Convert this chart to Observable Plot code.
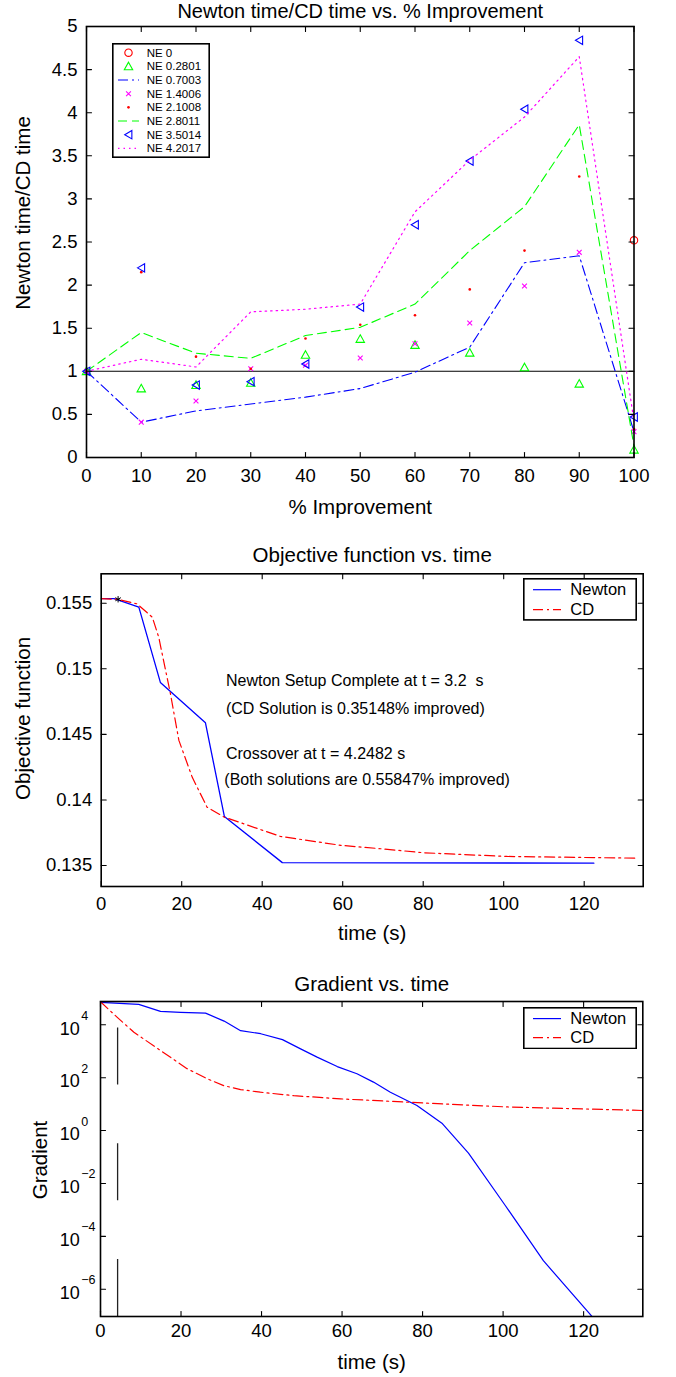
<!DOCTYPE html>
<html><head><meta charset="utf-8">
<script src="https://cdn.jsdelivr.net/npm/d3@7"></script>
<script src="https://cdn.jsdelivr.net/npm/@observablehq/plot@0.6"></script>
<style>
body{margin:0;background:#fff;}
#wrap{position:relative;width:676px;height:1377px;overflow:hidden;background:#fff;}
#wrap svg{display:block;}
svg text{white-space:pre;}
</style></head><body><div id="wrap"></div>
<script>
const FONT = '"Liberation Sans", Arial, Helvetica, sans-serif';

// ---------- Chart 1: Newton time/CD time vs % improvement ----------
const improvement = [0,10,20,30,40,50,60,70,80,90,100];
const ne_0      = [null,null,null,null,null,null,null,null,null,null,2.52];
const ne_0_2801 = [1,0.80,0.84,0.865,1.19,1.375,1.305,1.215,1.045,0.855,0.09];
const ne_0_7003 = [1,0.41,0.54,0.62,0.70,0.80,0.99,1.28,2.26,2.34,0.30];
const ne_1_4006 = [1,0.41,0.655,1.03,1.07,1.155,1.32,1.56,1.99,2.38,0.30];
const ne_2_1008 = [1,2.15,1.17,1.03,1.38,1.54,1.65,1.95,2.40,3.26,0.33];
const ne_2_8011 = [1,1.45,1.21,1.15,1.415,1.51,1.78,2.40,2.91,3.86,0.13];
const ne_3_5014 = [1,2.20,0.84,0.88,1.085,1.745,2.70,3.44,4.04,4.84,0.47];
const ne_4_2017 = [1,1.14,1.05,1.69,1.72,1.78,2.85,3.45,3.95,4.65,0.42];
const legendLabels1 = ["NE 0","NE 0.2801","NE 0.7003","NE 1.4006","NE 2.1008","NE 2.8011","NE 3.5014","NE 4.2017"];
const xTicks1 = [0,10,20,30,40,50,60,70,80,90,100];
const yTicks1 = [0,0.5,1,1.5,2,2.5,3,3.5,4,4.5,5];
const yTickLabels1 = ["0","0.5","1","1.5","2","2.5","3","3.5","4","4.5","5"];
const referenceRatio = 1;

// ---------- Chart 2: Objective function vs time ----------
const newtonTime = [0,3.2,9.35,14.7,25.9,30.6,45.0,122.4];
const newtonObjective = [0.15534,0.15534,0.1547,0.14896,0.14588,0.13874,0.13522,0.13518];
const cdTime = [0,4,8.9,12.7,14.3,17.2,19.3,22.6,26.3,30.5,44.5,59.5,69.4,80.2,100.9,133.2];
const cdObjective = [0.15534,0.1553,0.15495,0.15393,0.1524,0.1481,0.14454,0.14174,0.13945,0.1387,0.13722,0.13654,0.13628,0.13597,0.13569,0.13556];
const starTime = [4.2];
const starObjective = [0.1553];
const annotationText = ["Newton Setup Complete at t = 3.2  s","(CD Solution is 0.35148% improved)","Crossover at t = 4.2482 s","(Both solutions are 0.55847% improved)"];
const annotationX = [31,31,31,30.6];
const annotationY = [0.14911,0.14697,0.14354,0.14156];
const xTicks2 = [0,20,40,60,80,100,120];
const yTicks2 = [0.135,0.14,0.145,0.15,0.155];
const yTickLabels2 = ["0.135","0.14","0.145","0.15","0.155"];

// ---------- Chart 3: Gradient vs time ----------
const newtonGradTime = [0,9.5,14.9,19.9,26.1,30.7,34.8,39.8,45.2,49.7,53.8,58.8,63.7,67.8,72,78.6,84.8,91.4,100.5,110.0,122.5];
const newtonGradient = [7.1e4,5.9e4,3.2e4,2.95e4,2.75e4,1.38e4,6.0e3,4.6e3,2.75e3,1.23e3,600,263,141,68,28,8.9,1.9,0.14,1.5e-3,1.2e-5,7.9e-8];
const cdGradTime = [0,4.1,8.3,14.9,21.5,26.5,30.6,34.8,39.7,48,59.6,80.4,101.1,134.6];
const cdGradient = [7.4e4,1.95e4,5.2e3,1.07e3,219,91,50,35.5,28.2,20.9,15.8,11,7.8,5.75];
const crossoverTime = [4.2482];
const xTicks3 = [0,20,40,60,80,100,120];
const yTicks3 = [1e-6,1e-4,1e-2,1,1e2,1e4];
const legendLabels23 = ["Newton","CD"];

// ---------- helpers ----------
const RED="#ff0000", GREEN="#00ff00", BLUE="#0000ff", MAGENTA="#ff00ff";
const pairs = (xs, ys) => xs.map((x,i)=>({x, y: ys[i]})).filter(d => d.y != null);

const triUp = {draw(ctx,size){const r=Math.sqrt(size/Math.PI);ctx.moveTo(0,-r);ctx.lineTo(r,r*0.8);ctx.lineTo(-r,r*0.8);ctx.closePath();}};
const triLeft = {draw(ctx,size){const r=Math.sqrt(size/Math.PI);ctx.moveTo(-r*0.9,0);ctx.lineTo(r*0.8,-r);ctx.lineTo(r*0.8,r);ctx.closePath();}};
const crossX = {draw(ctx,size){const r=Math.sqrt(size/Math.PI);ctx.moveTo(-r,-r);ctx.lineTo(r,r);ctx.moveTo(r,-r);ctx.lineTo(-r,r);}};
const tickShape = {draw(ctx, l){ctx.moveTo(0,0);ctx.lineTo(0,-l);}};

function boxAxes(xTicks, yTicks) {
  const T = 5;
  const o = {length:T, anchor:"start", shape:tickShape, stroke:"black", strokeWidth:1.1};
  return [
    Plot.vector(xTicks, {x:d=>d, frameAnchor:"bottom", rotate:0, ...o}),
    Plot.vector(xTicks, {x:d=>d, frameAnchor:"top", rotate:180, ...o}),
    Plot.vector(yTicks, {y:d=>d, frameAnchor:"left", rotate:90, ...o}),
    Plot.vector(yTicks, {y:d=>d, frameAnchor:"right", rotate:-90, ...o}),
    Plot.frame({stroke:"black", strokeWidth:1.6})
  ];
}
const title = (s, dy, fs) => Plot.text([s], {frameAnchor:"top", textAnchor:"middle", lineAnchor:"middle", dy, fontSize:fs});
const xLabel = (s, dy) => Plot.text([s], {frameAnchor:"bottom", textAnchor:"middle", lineAnchor:"middle", dy, fontSize:20.5});
const yLabel = (s, dx, dy) => Plot.text([s], {frameAnchor:"left", textAnchor:"middle", lineAnchor:"middle", rotate:-90, dx, dy, fontSize:20.5});

const wrap = document.getElementById("wrap");

// ---------- Chart 1 ----------
const c1 = Plot.plot({
  width:676, height:530, marginTop:26, marginBottom:73, marginLeft:86, marginRight:42.5,
  style:{fontFamily:FONT, background:"white", color:"black"},
  x:{domain:[0,100], axis:null}, y:{domain:[0,5], axis:null},
  marks:[
    Plot.ruleY([referenceRatio], {stroke:"black", strokeWidth:1.1}),
    Plot.dot(pairs(improvement, ne_0), {x:"x", y:"y", r:3.7, stroke:RED, strokeWidth:1.1}),
    Plot.dot(pairs(improvement, ne_0_2801), {x:"x", y:"y", r:4.2, symbol:triUp, stroke:GREEN, strokeWidth:1.1}),
    Plot.line(pairs(improvement, ne_0_7003), {x:"x", y:"y", stroke:BLUE, strokeWidth:1.1, strokeDasharray:"10,4,2,4"}),
    Plot.dot(pairs(improvement, ne_1_4006), {x:"x", y:"y", r:2.4, symbol:crossX, stroke:MAGENTA, strokeWidth:1.1}),
    Plot.dot(pairs(improvement, ne_2_1008), {x:"x", y:"y", r:1.3, fill:RED}),
    Plot.line(pairs(improvement, ne_2_8011), {x:"x", y:"y", stroke:GREEN, strokeWidth:1.1, strokeDasharray:"9,5"}),
    Plot.dot(pairs(improvement, ne_3_5014), {x:"x", y:"y", r:4.2, symbol:triLeft, stroke:BLUE, strokeWidth:1.1}),
    Plot.line(pairs(improvement, ne_4_2017), {x:"x", y:"y", stroke:MAGENTA, strokeWidth:1.2, strokeDasharray:"1.5,4"}),
    ...boxAxes(xTicks1, yTicks1),
    Plot.axisX({anchor:"bottom", ticks:xTicks1, tickSize:0, tickPadding:11, label:null, fontSize:18.5, tickFormat:d=>String(d)}),
    Plot.axisY({anchor:"left", ticks:yTicks1, tickSize:0, tickPadding:9, label:null, fontSize:18.5, tickFormat:d=>yTickLabels1[yTicks1.indexOf(d)]}),
    title("Newton time/CD time vs. % Improvement", -15, 20),
    xLabel("% Improvement", 50),
    yLabel("Newton time/CD time", -63, -29)
  ]
});
wrap.appendChild(c1);

// ---------- Chart 2 ----------
const c2 = Plot.plot({
  width:676, height:425, marginTop:43.3, marginBottom:69, marginLeft:100.7, marginRight:33.3,
  style:{fontFamily:FONT, background:"white", color:"black"},
  x:{domain:[0,134.66], axis:null}, y:{domain:[0.13340,0.15724], axis:null},
  marks:[
    Plot.line(pairs(newtonTime, newtonObjective), {x:"x", y:"y", stroke:BLUE, strokeWidth:1.3, clip:true}),
    Plot.line(pairs(cdTime, cdObjective), {x:"x", y:"y", stroke:RED, strokeWidth:1.2, strokeDasharray:"10,4,2,4", clip:true}),
    Plot.dot(pairs(starTime, starObjective), {x:"x", y:"y", r:3, symbol:"asterisk", stroke:"black", strokeWidth:1}),
    Plot.text(annotationText, {x:(d,i)=>annotationX[i], y:(d,i)=>annotationY[i], textAnchor:"start", fontSize:16}),
    ...boxAxes(xTicks2, yTicks2),
    Plot.axisX({anchor:"bottom", ticks:xTicks2, tickSize:0, tickPadding:10, label:null, fontSize:18.5, tickFormat:d=>String(d)}),
    Plot.axisY({anchor:"left", ticks:yTicks2, tickSize:0, tickPadding:9, label:null, fontSize:18.5, tickFormat:d=>yTickLabels2[yTicks2.indexOf(d)]}),
    title("Objective function vs. time", -18, 20.5),
    xLabel("time (s)", 47),
    yLabel("Objective function", -77.7, -11.7)
  ]
});
wrap.appendChild(c2);

// ---------- Chart 3 ----------
const yDomain3 = [9.3e-8, 7.6e4];
const supDigits = e => (e < 0 ? "\u2212" : "") + Math.abs(e);
const c3 = Plot.plot({
  width:676, height:422, marginTop:46, marginBottom:61, marginLeft:100, marginRight:33.7,
  style:{fontFamily:FONT, background:"white", color:"black"},
  x:{domain:[0,134.7], axis:null}, y:{type:"log", domain:yDomain3, axis:null},
  marks:[
    Plot.ruleX(crossoverTime, {x:d=>d, y1:yDomain3[0], y2:yDomain3[1], stroke:"#222", strokeWidth:1.3, strokeDasharray:"57,58.7"}),
    Plot.line(pairs(newtonGradTime, newtonGradient), {x:"x", y:"y", stroke:BLUE, strokeWidth:1.2, clip:true}),
    Plot.line(pairs(cdGradTime, cdGradient), {x:"x", y:"y", stroke:RED, strokeWidth:1.2, strokeDasharray:"10,4,2,4", clip:true}),
    ...boxAxes(xTicks3, yTicks3),
    Plot.axisX({anchor:"bottom", ticks:xTicks3, tickSize:0, tickPadding:7, label:null, fontSize:18.5, tickFormat:d=>String(d)}),
    Plot.text(yTicks3, {y:d=>d, frameAnchor:"left", text:()=>"10", textAnchor:"end", lineAnchor:"middle", dx:-20.7, dy:4, fontSize:18}),
    Plot.text(yTicks3, {y:d=>d, frameAnchor:"left", text:d=>supDigits(Math.round(Math.log10(d))), textAnchor:"start", lineAnchor:"middle", dx:-19.3, dy:-9, fontSize:12.5}),
    title("Gradient vs. time", -17, 20.5),
    xLabel("time (s)", 46),
    yLabel("Gradient", -60, 1)
  ]
});
wrap.appendChild(c3);

// ---------- Legends (overlaid boxes) ----------
function legendBox({left, top, width, height, rows, y0, step, sx0, sx1, tx, fontSize}) {
  const svg = d3.create("svg").attr("width", width).attr("height", height)
    .style("position","absolute").style("left", left+"px").style("top", top+"px");
  svg.append("rect").attr("x",0.8).attr("y",0.8).attr("width",width-1.6).attr("height",height-1.6)
    .attr("fill","white").attr("stroke","black").attr("stroke-width",1.6);
  rows.forEach((r,i) => {
    const y = y0 + i*step;
    if (r.dash !== undefined) {
      svg.append("line").attr("x1",sx0).attr("x2",sx1).attr("y1",y).attr("y2",y)
        .attr("stroke",r.color).attr("stroke-width",1.2).attr("stroke-dasharray",r.dash || null);
    }
    if (r.symbol) {
      const p = d3.symbol(r.symbol, r.r*r.r*Math.PI)();
      svg.append("path").attr("d",p).attr("transform",`translate(${(sx0+sx1)/2},${y})`)
        .attr("fill", r.fill ? r.color : "none").attr("stroke", r.fill ? "none" : r.color).attr("stroke-width",1.1);
    }
    svg.append("text").attr("x",tx).attr("y",y).attr("dy","0.35em").attr("font-size",fontSize)
      .attr("font-family",FONT).text(r.label);
  });
  return svg.node();
}

wrap.appendChild(legendBox({left:112, top:43, width:98, height:115, y0:9.7, step:13.66, sx0:6, sx1:27, tx:34.7, fontSize:11.5,
  rows:[
    {label:legendLabels1[0], color:RED, symbol:d3.symbolCircle, r:3.7},
    {label:legendLabels1[1], color:GREEN, symbol:triUp, r:4.2},
    {label:legendLabels1[2], color:BLUE, dash:"10,4,2,4"},
    {label:legendLabels1[3], color:MAGENTA, symbol:crossX, r:2.4},
    {label:legendLabels1[4], color:RED, symbol:d3.symbolCircle, r:1.3, fill:true},
    {label:legendLabels1[5], color:GREEN, dash:"9,5"},
    {label:legendLabels1[6], color:BLUE, symbol:triLeft, r:4.2},
    {label:legendLabels1[7], color:MAGENTA, dash:"1.5,4"}
  ]}));

wrap.appendChild(legendBox({left:522.7, top:578.3, width:114, height:42.7, y0:11.7, step:20, sx0:10, sx1:38, tx:47.3, fontSize:16.5,
  rows:[{label:legendLabels23[0], color:BLUE, dash:""},{label:legendLabels23[1], color:RED, dash:"10,4,2,4"}]}));

wrap.appendChild(legendBox({left:522.7, top:1006.7, width:114, height:42.3, y0:11.6, step:19, sx0:10, sx1:38, tx:47.3, fontSize:16.5,
  rows:[{label:legendLabels23[0], color:BLUE, dash:""},{label:legendLabels23[1], color:RED, dash:"10,4,2,4"}]}));
</script></body></html>
